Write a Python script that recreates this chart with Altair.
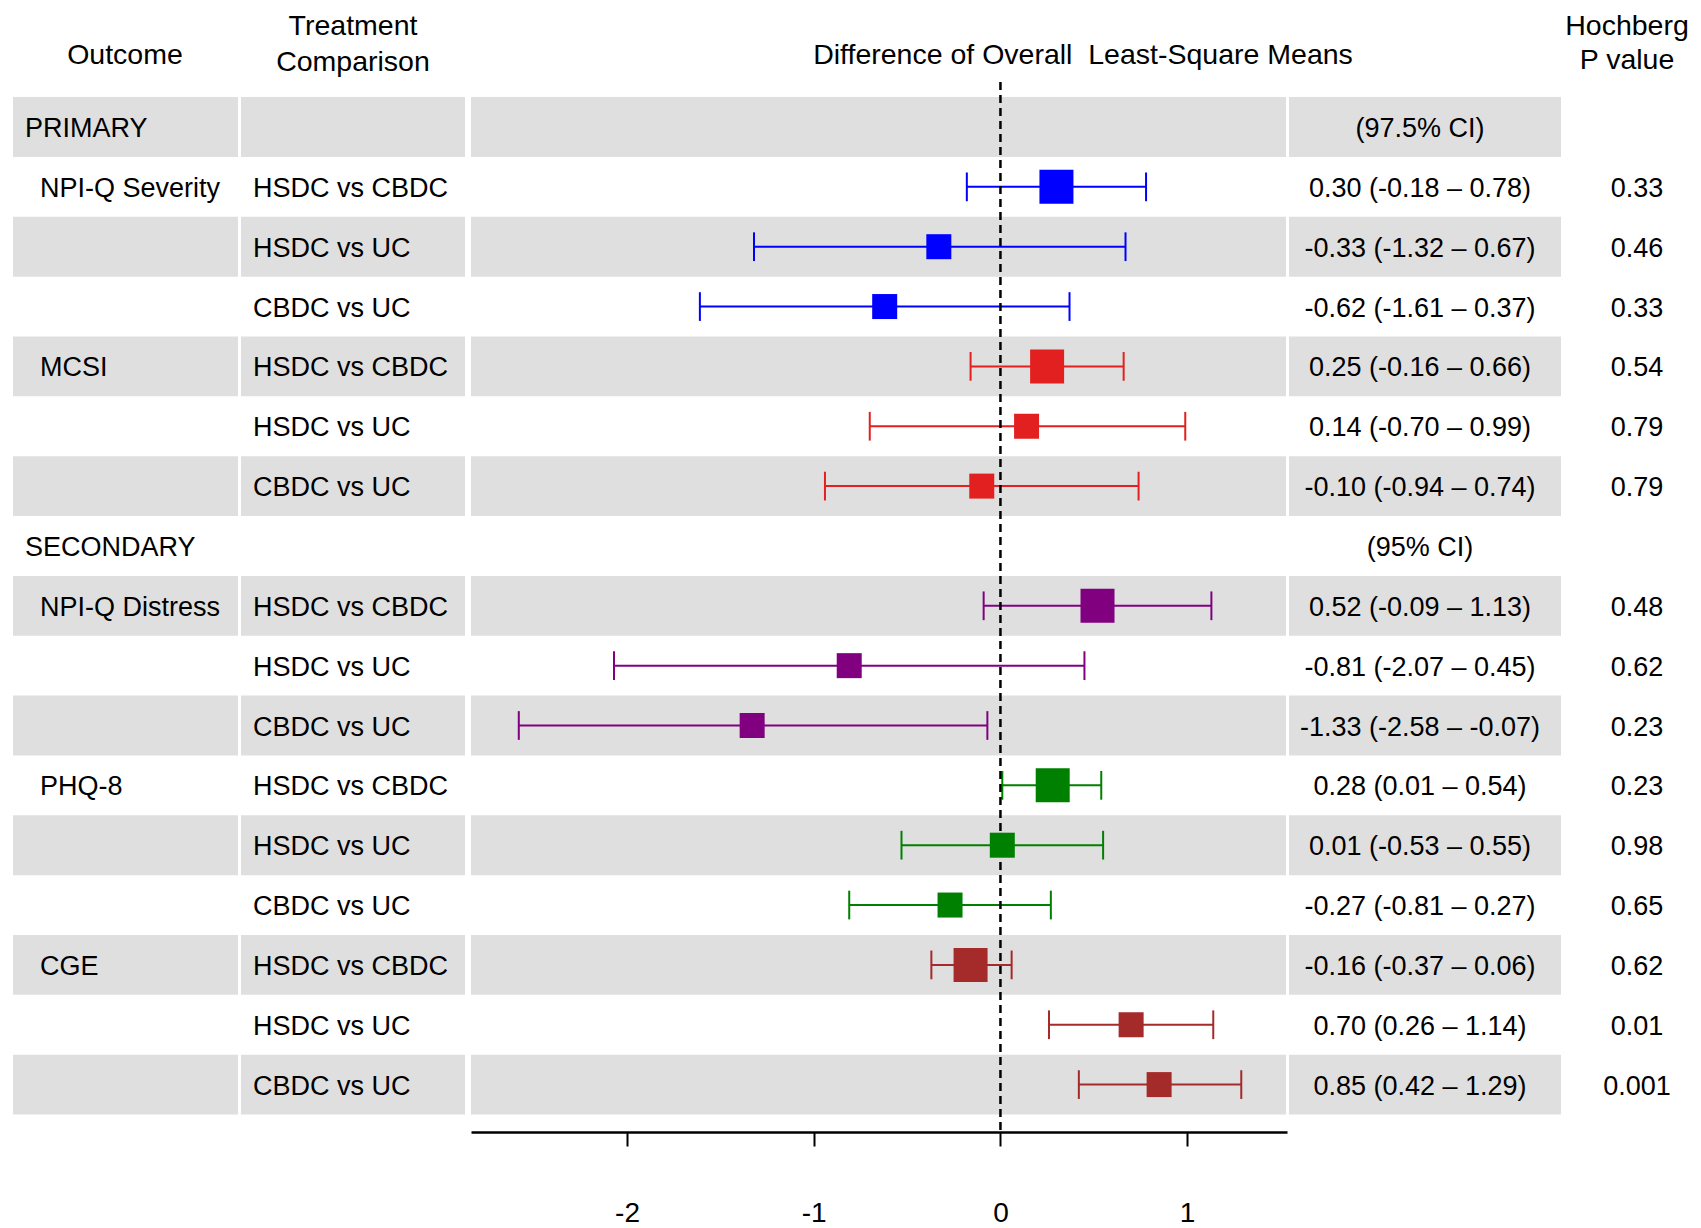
import altair as alt
import pandas as pd

# ---------------- data ----------------
outcome_groups = ["NPI-Q Severity", "MCSI", "NPI-Q Distress", "PHQ-8", "CGE"]
group_colors = ["#0000FF", "#E2201F", "#800080", "#008000", "#A52A2A"]
comparisons = ["HSDC vs CBDC", "HSDC vs UC", "CBDC vs UC"]

est = [0.30, -0.33, -0.62, 0.25, 0.14, -0.10, 0.52, -0.81, -1.33, 0.28, 0.01, -0.27, -0.16, 0.70, 0.85]
lo = [-0.18, -1.32, -1.61, -0.16, -0.70, -0.94, -0.09, -2.07, -2.58, 0.01, -0.53, -0.81, -0.37, 0.26, 0.42]
hi = [0.78, 0.67, 0.37, 0.66, 0.99, 0.74, 1.13, 0.45, -0.07, 0.54, 0.55, 0.27, 0.06, 1.14, 1.29]
p_values = ["0.33", "0.46", "0.33", "0.54", "0.79", "0.79", "0.48", "0.62", "0.23",
            "0.23", "0.98", "0.65", "0.62", "0.01", "0.001"]

section_labels = ["PRIMARY", "SECONDARY"]
section_ci = ["(97.5% CI)", "(95% CI)"]
section_rows = [0, 7]
data_rows = [1, 2, 3, 4, 5, 6, 8, 9, 10, 11, 12, 13, 14, 15, 16]
n_rows = 17
x_ticks = [-2, -1, 0, 1]

# ---------------- tables ----------------
recs = []
for k in range(len(est)):
    g = k // 3
    c = k % 3
    recs.append({
        "row": data_rows[k],
        "outcome": outcome_groups[g] if c == 0 else "",
        "comparison": comparisons[c],
        "est": est[k], "lo": lo[k], "hi": hi[k],
        "ci": f"{est[k]:.2f} ({lo[k]:.2f} \u2013 {hi[k]:.2f})",
        "p": p_values[k],
        "color": group_colors[g],
        "size": 1156 if c == 0 else 625,
    })
df = pd.DataFrame(recs)
df["cap0"] = df["row"] - 0.24
df["cap1"] = df["row"] + 0.24

sec = pd.DataFrame({"row": section_rows, "label": section_labels, "ci": section_ci})
bands = pd.DataFrame({"row": [r for r in range(n_rows) if r % 2 == 0]})
bands["y0"] = bands["row"] - 0.5
bands["y1"] = bands["row"] + 0.5
zero = pd.DataFrame({"z": [0]})
one = pd.DataFrame({"a": [0]})

# ---------------- styling ----------------
FONT = "Liberation Sans"
FS = 27
HFS = 28.5
PITCH = 59.85
TOP = 6
H = 1124 - TOP
d0 = -(119 - TOP) / PITCH
yscale = alt.Scale(domain=[d0, d0 + H / PITCH], reverse=True, nice=False, zero=False)
xscale = alt.Scale(domain=[-2.836, 1.535], nice=False, zero=False)
xaxis = alt.Axis(values=x_ticks, title=None, grid=False, domainColor="black", domainWidth=2.5,
                 tickColor="black", tickWidth=2, tickSize=14, labelFontSize=28, labelFont=FONT,
                 labelColor="black", labelPadding=67, labelBaseline="middle",
                 labelExpr="'' + datum.value")
BAND = "#DFDFDF"

layers = []
# shaded bands per column
for x0, x1 in [(-458, -233), (-230, -6), (0, 815), (818, 1090)]:
    layers.append(
        alt.Chart(bands).mark_rect(color=BAND).encode(
            y=alt.Y("y0:Q", scale=yscale, axis=None), y2="y1:Q",
            x=alt.value(x0), x2=alt.value(x1))
    )

# CI lines
layers.append(
    alt.Chart(df).mark_rule(strokeWidth=2).encode(
        x=alt.X("lo:Q", scale=xscale, axis=xaxis), x2="hi:Q",
        y=alt.Y("row:Q", scale=yscale, axis=None),
        color=alt.Color("color:N", scale=None))
)
for f in ["lo", "hi"]:
    layers.append(
        alt.Chart(df).mark_rule(strokeWidth=2).encode(
            x=alt.X(f"{f}:Q", scale=xscale, axis=xaxis),
            y=alt.Y("cap0:Q", scale=yscale, axis=None), y2="cap1:Q",
            color=alt.Color("color:N", scale=None))
    )

# zero reference line
layers.append(
    alt.Chart(zero).mark_rule(color="black", strokeWidth=2.5, strokeDash=[8, 5]).encode(
        x=alt.X("z:Q", scale=xscale, axis=xaxis), y=alt.value(74 - TOP), y2=alt.value(H))
)

# point estimates
layers.append(
    alt.Chart(df).mark_square(opacity=1, filled=True).encode(
        x=alt.X("est:Q", scale=xscale, axis=xaxis),
        y=alt.Y("row:Q", scale=yscale, axis=None),
        size=alt.Size("size:Q", scale=None),
        color=alt.Color("color:N", scale=None))
)

tkw = dict(font=FONT, fontSize=FS, color="black", baseline="middle", dy=2)
hkw = dict(font=FONT, fontSize=HFS, color="black", baseline="middle")

# table text
layers.append(alt.Chart(df).mark_text(align="left", **tkw).encode(
    x=alt.value(-431), y=alt.Y("row:Q", scale=yscale, axis=None), text="outcome:N"))
layers.append(alt.Chart(df).mark_text(align="left", **tkw).encode(
    x=alt.value(-218), y=alt.Y("row:Q", scale=yscale, axis=None), text="comparison:N"))
layers.append(alt.Chart(df).mark_text(align="center", **tkw).encode(
    x=alt.value(949), y=alt.Y("row:Q", scale=yscale, axis=None), text="ci:N"))
layers.append(alt.Chart(df).mark_text(align="center", **tkw).encode(
    x=alt.value(1166), y=alt.Y("row:Q", scale=yscale, axis=None), text="p:N"))
layers.append(alt.Chart(sec).mark_text(align="left", **tkw).encode(
    x=alt.value(-446), y=alt.Y("row:Q", scale=yscale, axis=None), text="label:N"))
layers.append(alt.Chart(sec).mark_text(align="center", **tkw).encode(
    x=alt.value(949), y=alt.Y("row:Q", scale=yscale, axis=None), text="ci:N"))

# headers (page y minus margin and top padding)
headers = [
    ("Outcome", -346, 47 - TOP),
    ("Treatment", -118, 18 - TOP),
    ("Comparison", -118, 54 - TOP),
    ("Difference of Overall\u00a0 Least-Square Means", 612, 47 - TOP),
    ("Hochberg", 1156, 18 - TOP),
    ("P value", 1156, 52 - TOP),
]
for txt, hx, hy in headers:
    layers.append(alt.Chart(one).mark_text(align="center", text=txt, **hkw).encode(
        x=alt.value(hx), y=alt.value(hy)))

chart = alt.layer(*layers).properties(
    width=816, height=H,
    autosize=alt.AutoSizeParams(type="none"),
    padding={"left": 463, "top": TOP, "right": 406, "bottom": 98},
    background="white",
).configure_view(stroke=None)

chart.save("out.html", embed_options={"renderer": "svg", "actions": False})
